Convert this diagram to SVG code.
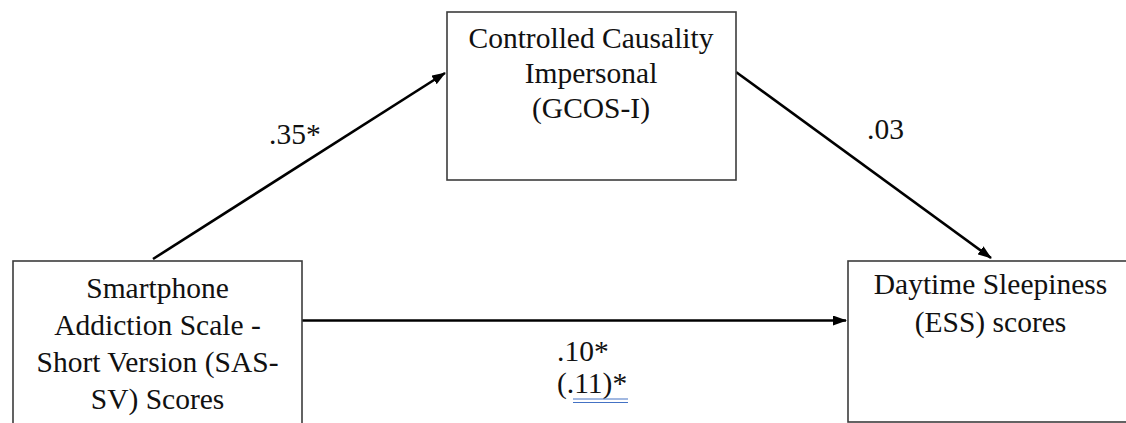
<svg xmlns="http://www.w3.org/2000/svg" width="1126" height="423" viewBox="0 0 1126 423">
  <style>
    .box { fill: #ffffff; stroke: #3c3c3c; stroke-width: 1.6; }
    text { font-family: 'Liberation Serif', 'DejaVu Serif', serif; font-size: 29.5px; fill: #111111; }
    .lbl { text-anchor: middle; }
    .edge { fill: none; stroke: #000000; stroke-width: 2.6; }
    .uline { stroke: #4472c4; stroke-width: 1.2; }
  </style>
  <defs>
    <marker id="head" viewBox="0 0 14 10" refX="13" refY="5" markerWidth="14" markerHeight="10" markerUnits="userSpaceOnUse" orient="auto">
      <path d="M0,0 L14,5 L0,10 z" fill="#000000"/>
    </marker>
  </defs>

  <rect width="1126" height="423" fill="#ffffff"/>

  <!-- Connectors -->
  <g id="connectors">
    <line class="edge" x1="153" y1="259" x2="445" y2="73" marker-end="url(#head)"/>
    <line class="edge" x1="736" y1="72" x2="991" y2="258" marker-end="url(#head)"/>
    <line class="edge" x1="302" y1="320.5" x2="846" y2="320.5" marker-end="url(#head)"/>
  </g>

  <!-- Path coefficients -->
  <g id="coefficients" font-family="Liberation Serif, serif">
    <text x="269" y="144">.35*</text>
    <text x="867" y="139">.03</text>
    <text x="557" y="361">.10*</text>
    <text x="557" y="393">(.11)*</text>
    <line class="uline" x1="573" y1="399" x2="628" y2="399"/>
    <line class="uline" x1="573" y1="402.5" x2="628" y2="402.5"/>
  </g>

  <!-- Predictor -->
  <g id="node-sas">
    <rect class="box" x="13" y="261" width="289" height="180"/>
    <text class="lbl" x="157.5" y="298">Smartphone</text>
    <text class="lbl" x="157.5" y="335">Addiction Scale -</text>
    <text class="lbl" x="157.5" y="372">Short Version (SAS-</text>
    <text class="lbl" x="157.5" y="409">SV) Scores</text>
  </g>

  <!-- Mediator -->
  <g id="node-gcos">
    <rect class="box" x="447" y="12" width="289" height="168"/>
    <text class="lbl" x="591" y="48">Controlled Causality</text>
    <text class="lbl" x="591" y="83">Impersonal</text>
    <text class="lbl" x="591" y="118">(GCOS-I)</text>
  </g>

  <!-- Outcome -->
  <g id="node-ess">
    <rect class="box" x="848" y="261" width="290" height="161"/>
    <text class="lbl" x="990.5" y="294">Daytime Sleepiness</text>
    <text class="lbl" x="990.5" y="332">(ESS) scores</text>
  </g>
</svg>
